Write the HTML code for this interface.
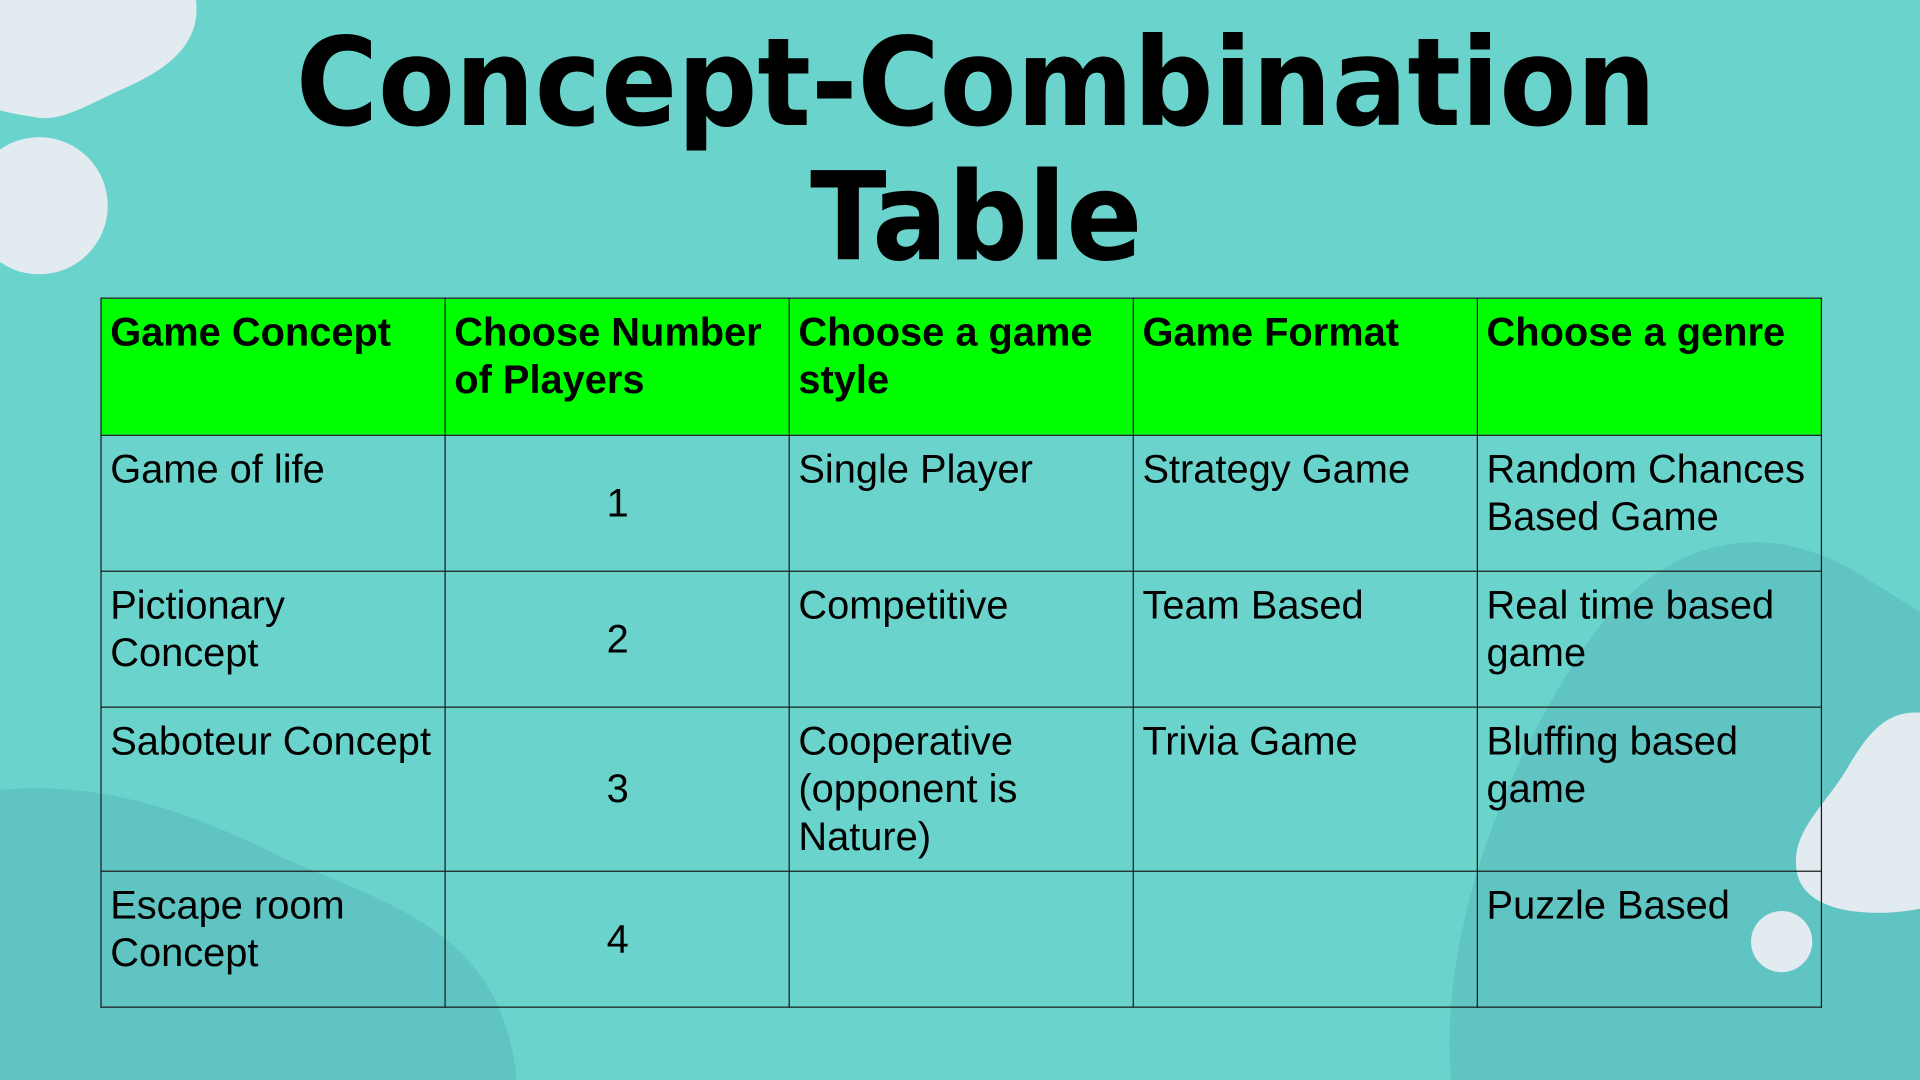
<!DOCTYPE html>
<html><head><meta charset="utf-8"><style>
html,body{margin:0;padding:0;width:1920px;height:1080px;overflow:hidden;background:#6ad4cc}
#s{position:absolute;left:0;top:0;width:1568px;height:882px;transform:scale(1.22449);transform-origin:0 0;background:#6ad4cc}
svg{position:absolute;left:0;top:0}
.title{position:absolute;left:13px;width:1568px;text-align:center;font-family:"DejaVu Sans",sans-serif;font-weight:bold;font-size:100px;line-height:110px;color:#000}
.title span{display:inline-block;transform:scaleX(0.915)}
table{position:absolute;left:82px;top:243px;table-layout:fixed;border-collapse:collapse;font-family:"Liberation Sans",Arial,sans-serif;font-size:32.5px;line-height:39px;color:#000}
td{border:1.3px solid #1a1a1a;width:267px;padding:8px 6px 0 7px;vertical-align:top;overflow:hidden;white-space:normal}
tr.h td{background:#00ff00;font-weight:bold;height:103px}
td.n{text-align:center;vertical-align:middle;padding-top:0}
</style></head><body><div id="s">
<svg width="1568" height="882" viewBox="0 0 1568 882">
<path d="M0 0 L160 0 C165 40 130 60 95 75 C60 92 45 100 25 95 C10 93 0 90 0 90 Z" fill="#e2ebf0"/>
<circle cx="32" cy="168" r="56" fill="#e2ebf0"/>
<path d="M0 645 C80 638 150 660 230 700 C320 740 410 760 422 882 L0 882 Z" fill="#5fc4c2"/>
<path d="M1185 882 C1175 760 1230 620 1300 520 C1360 440 1440 420 1520 470 C1545 485 1560 495 1568 500 L1568 882 Z" fill="#5fc4c2"/>
<path d="M1568 582 C1540 580 1525 600 1510 625 C1490 660 1460 680 1468 715 C1478 750 1540 748 1568 742 Z" fill="#e2ebf0"/>
<circle cx="1455" cy="769" r="25" fill="#e2ebf0"/>
</svg>
<div class="title" style="top:13px"><span>Concept-Combination</span></div>
<div class="title" style="top:123px"><span>Table</span></div>
<table>
<tr class="h"><td>Game Concept</td><td>Choose Number of Players</td><td>Choose a game style</td><td>Game Format</td><td>Choose a genre</td></tr>
<tr style="height:111px"><td>Game of life</td><td class="n">1</td><td>Single Player</td><td>Strategy Game</td><td>Random Chances Based Game</td></tr>
<tr style="height:111px"><td>Pictionary Concept</td><td class="n">2</td><td>Competitive</td><td>Team Based</td><td>Real time based game</td></tr>
<tr style="height:134px"><td>Saboteur Concept</td><td class="n">3</td><td>Cooperative (opponent is Nature)</td><td>Trivia Game</td><td>Bluffing based game</td></tr>
<tr style="height:111px"><td>Escape room Concept</td><td class="n">4</td><td></td><td></td><td>Puzzle Based</td></tr>
</table>
</div></body></html>
